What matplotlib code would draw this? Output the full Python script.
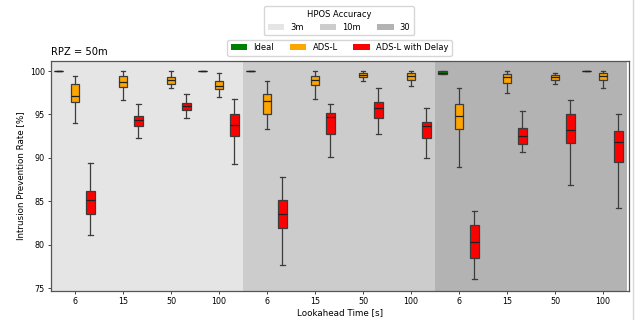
import numpy as np
import matplotlib
matplotlib.use("Agg")
import matplotlib.pyplot as plt
from matplotlib.patches import Patch
from matplotlib.lines import Line2D

lookahead = ["6", "15", "50", "100"]
hpos_labels = ["3m", "10m", "30"]
hpos_colors = ["#e5e5e5", "#cccccc", "#b3b3b3"]

# stats per box: (whislo, q1, median, q3, whishi); NaN = no box
nan = np.nan
ideal = [
    # 3m
    (100, 100, 100, 100, 100), (nan,) * 5, (nan,) * 5, (100, 100, 100, 100, 100),
    # 10m
    (100, 100, 100, 100, 100), (nan,) * 5, (nan,) * 5, (nan,) * 5,
    # 30
    (99.6, 99.6, 99.8, 99.95, 99.95), (nan,) * 5, (nan,) * 5, (100, 100, 100, 100, 100),
]
adsl = [
    (94.0, 96.4, 97.17, 98.5, 99.46), (96.67, 98.13, 98.78, 99.46, 100.0),
    (98.05, 98.55, 98.97, 99.27, 100.0), (97.02, 97.97, 98.31, 98.82, 99.77),
    (93.35, 95.1, 96.52, 97.33, 98.89), (96.83, 98.39, 98.97, 99.46, 100.0),
    (98.81, 99.27, 99.54, 99.73, 100.0), (98.24, 98.93, 99.43, 99.73, 100.0),
    (88.91, 93.38, 94.84, 96.25, 98.05), (97.51, 98.58, 99.27, 99.6, 100.0),
    (98.47, 99.0, 99.27, 99.5, 99.77), (98.05, 98.93, 99.43, 99.73, 100.0),
]
adsl_delay = [
    (81.19, 83.52, 85.17, 86.24, 89.37), (92.35, 93.73, 94.34, 94.8, 96.18),
    (94.57, 95.49, 95.99, 96.33, 97.33), (89.33, 92.55, 93.81, 95.03, 96.82),
    (77.64, 81.95, 83.56, 85.13, 87.77), (90.06, 92.81, 94.72, 95.14, 96.25),
    (92.7, 94.61, 95.72, 96.48, 98.01), (89.98, 92.24, 93.66, 94.19, 95.8),
    (76.03, 78.51, 80.39, 82.26, 83.94), (90.64, 91.66, 92.55, 93.46, 95.41),
    (86.85, 91.7, 93.19, 95.03, 96.63), (84.25, 89.53, 91.82, 93.08, 95.03),
]
series = [("Ideal", ideal, "#008000", -0.34),
          ("ADS-L", adsl, "#ffa500", 0.0),
          ("ADS-L with Delay", adsl_delay, "#ff0000", 0.32)]

fig = plt.figure(figsize=(6.42, 3.2), dpi=100)
ax = fig.add_axes([51 / 642, 1 - 291 / 320, (629 - 51) / 642, (291 - 61) / 320])

n_groups = len(hpos_labels)
n_la = len(lookahead)
for g in range(n_groups):
    ax.axvspan(g * n_la - 0.5, (g + 1) * n_la - 0.5, color=hpos_colors[g], zorder=0, lw=0)

edge = "#3c3c3c"
for name, data, col, off in series:
    stats, pos = [], []
    for i, s in enumerate(data):
        if np.isnan(s[0]):
            continue
        stats.append(dict(whislo=s[0], q1=s[1], med=s[2], q3=s[3], whishi=s[4], fliers=[]))
        pos.append(i + off)
    ax.bxp(stats, positions=pos, widths=0.18, patch_artist=True, showfliers=False,
           boxprops=dict(facecolor=col, edgecolor=edge, linewidth=0.9),
           medianprops=dict(color="#202020", linewidth=0.9),
           whiskerprops=dict(color=edge, linewidth=0.9),
           capprops=dict(color=edge, linewidth=0.9), capwidths=0.09,
           manage_ticks=False, zorder=3)

ax.set_xlim(-0.5, 11.54)
ax.set_ylim(74.7, 101.15)
ax.set_xticks(np.arange(n_groups * n_la))
ax.set_xticklabels(lookahead * n_groups)
ax.set_yticks([75, 80, 85, 90, 95, 100])
ax.tick_params(axis="both", labelsize=5.8, length=2.5, width=0.7, pad=2, color="#444444")
ax.set_xlabel("Lookahead Time [s]", fontsize=6.3, labelpad=1.5)
ax.set_ylabel("Intrusion Prevention Rate [%]", fontsize=6.3, labelpad=3)
ax.set_title("RPZ = 50m", loc="left", fontsize=7.2, pad=4)
for sp in ax.spines.values():
    sp.set_color("#555555")
    sp.set_linewidth(0.9)

h1 = [Patch(facecolor=c, edgecolor="none") for c in hpos_colors]
leg1 = fig.legend(h1, hpos_labels, title="HPOS Accuracy", ncol=3, fontsize=6,
                  title_fontsize=6, loc="upper center", bbox_to_anchor=(0.528, 0.993),
                  handlelength=2.0, handleheight=0.72, handletextpad=0.72,
                  columnspacing=1.9, borderpad=0.4)
h2 = [Patch(facecolor=c, edgecolor="none") for _, _, c, _ in series]
leg2 = fig.legend(h2, [s[0] for s in series], ncol=3, fontsize=6, loc="upper center",
                  bbox_to_anchor=(0.529, 0.888), handlelength=2.0, handleheight=0.72,
                  handletextpad=0.72, columnspacing=1.9, borderpad=0.4)

fig.add_artist(Line2D([633 / 642, 633 / 642], [0, 1], color="#d8d8d8", lw=1.0,
                      transform=fig.transFigure))

fig.savefig("out.png", dpi=100)
